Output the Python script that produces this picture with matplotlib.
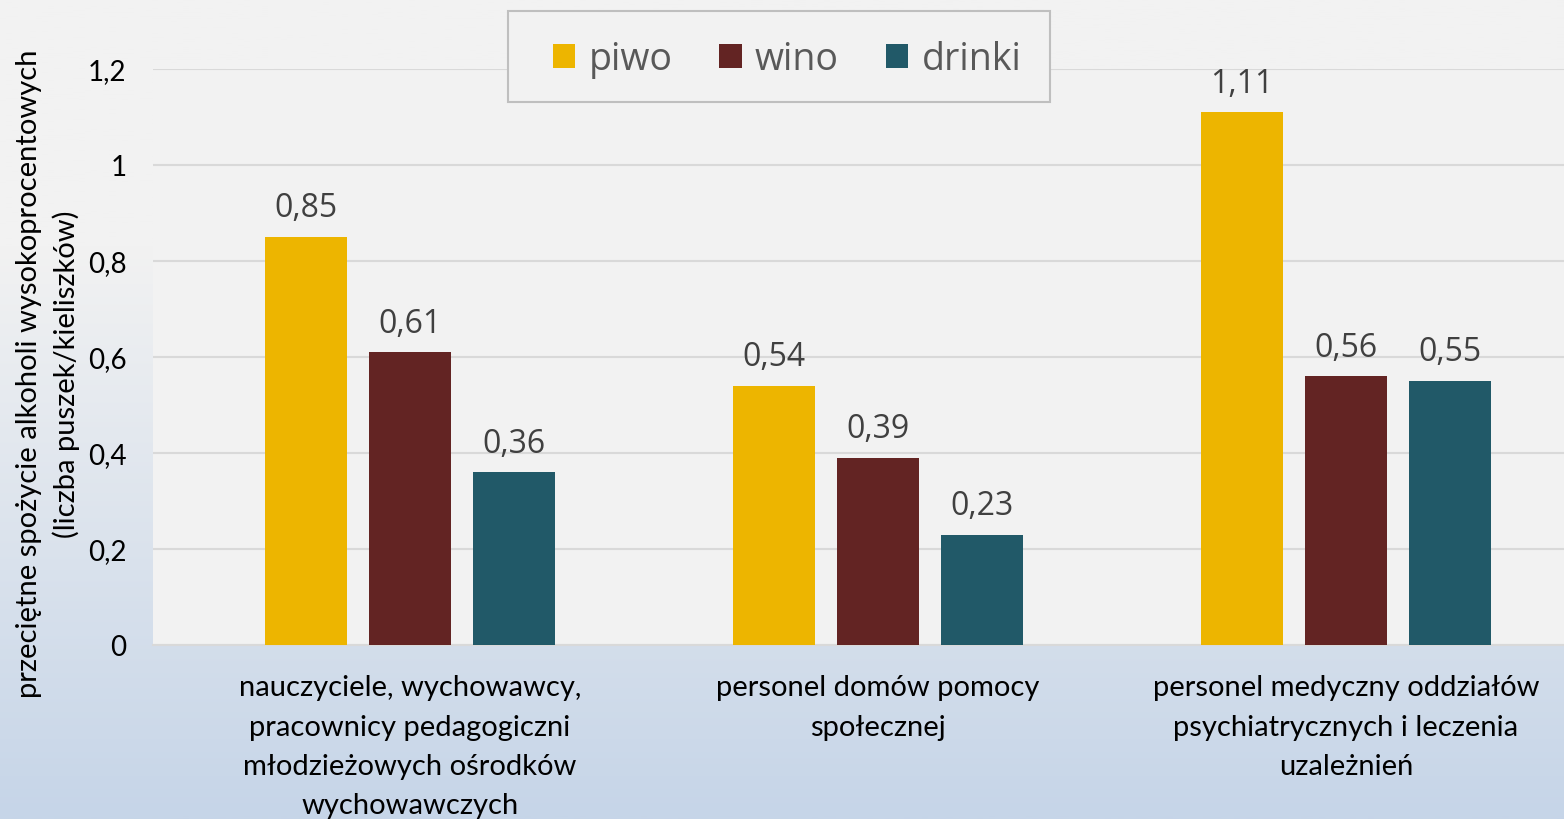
import numpy as np
import matplotlib.pyplot as plt
from matplotlib.colors import LinearSegmentedColormap
from matplotlib.ticker import FuncFormatter
from matplotlib.patches import Rectangle

categories = ["nauczyciele, wychowawcy,\npracownicy pedagogiczni\nmłodzieżowych ośrodków\nwychowawczych",
              "personel domów pomocy\nspołecznej",
              "personel medyczny oddziałów\npsychiatrycznych i leczenia\nuzależnień"]
series = ["piwo", "wino", "drinki"]
piwo = [0.85, 0.54, 1.11]
wino = [0.61, 0.39, 0.56]
drinki = [0.36, 0.23, 0.55]
colors = ["#edb500", "#632423", "#215968"]
yticks = [0, 0.2, 0.4, 0.6, 0.8, 1.0, 1.2]

fig = plt.figure(figsize=(15.64, 8.2), dpi=100)

# background gradient (light grey -> light blue)
bg = fig.add_axes([0, 0, 1, 1], zorder=-10)
cmap = LinearSegmentedColormap.from_list("bg", [(0, "#f2f2f2"), (0.3, "#f2f2f2"), (1, "#c6d5e8")])
grad = np.linspace(0, 1, 400).reshape(-1, 1)
bg.imshow(grad, aspect="auto", cmap=cmap, extent=[0, 1, 0, 1], origin="upper")
bg.axis("off")

ax = fig.add_axes([153/1564, 1-646/820, 1-153/1564, (646-70)/820])
ax.set_facecolor("#f2f2f2")

x = np.arange(len(categories))
w = 82/468
step = 104/468
for i, (name, vals) in enumerate(zip(series, [piwo, wino, drinki])):
    bars = ax.bar(x + (i-1)*step, vals, w, color=colors[i], label=name, zorder=3)
    ax.bar_label(bars, labels=[f"{v:.2f}".replace(".", ",") for v in vals], padding=9,
                 fontsize=23, color="#404040", family="Open Sans")

ax.set_xlim((153-410)/468, (1564-410)/468)
ax.set_ylim(0, 1.2)
ax.set_yticks(yticks)
ax.yaxis.set_major_formatter(FuncFormatter(lambda v, p: f"{v:g}".replace(".", ",")))
ax.grid(axis="y", color="#d9d9d9", linewidth=1.5, zorder=0)
ax.set_xticks(x)
ax.set_xticklabels(categories, fontsize=21, family="Lato", linespacing=1.64)
ax.tick_params(axis="both", length=0)
ax.tick_params(axis="y", labelsize=20, pad=19)
ax.tick_params(axis="x", pad=21)
for lbl in ax.get_yticklabels():
    lbl.set_family("Lato")
for s in ["top", "right", "left"]:
    ax.spines[s].set_visible(False)
ax.spines["bottom"].set_color("#d9d9d9")
ax.spines["bottom"].set_linewidth(1.5)

fig.text(48/1564, 1-374/820, "przeciętne spożycie alkoholi wysokoprocentowych\n(liczba puszek/kieliszków)",
         rotation=90, ha="center", va="center", fontsize=21, family="Lato", linespacing=1.5)

# legend box
fig.patches.append(Rectangle((508/1564, 1-103/820), 542/1564, 91/820, transform=fig.transFigure,
                             facecolor="#f2f2f2", edgecolor="#bfbfbf", linewidth=1.5, zorder=5))
leg = fig.legend(loc="center", bbox_to_anchor=(787/1564, 1-60/820), ncol=3,
                 prop={"family": "Open Sans", "size": 27}, frameon=False,
                 handlelength=0.6, handleheight=0.6, handletextpad=0.35, columnspacing=1.25,
                 borderpad=0, borderaxespad=0)
leg.set_zorder(6)
for t in leg.get_texts():
    t.set_color("#595959")

fig.savefig("out.png", dpi=100)
